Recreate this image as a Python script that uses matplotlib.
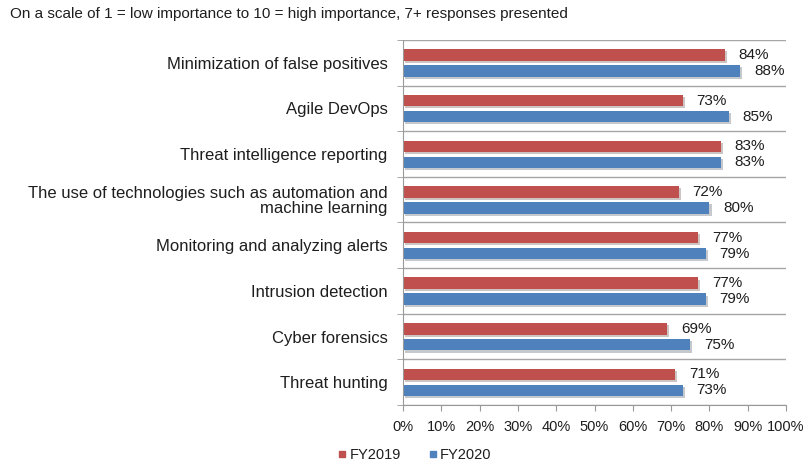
import numpy as np
import matplotlib.pyplot as plt
import matplotlib.patheffects as pe
from matplotlib.lines import Line2D

plt.rcParams['font.family'] = ['Liberation Sans', 'DejaVu Sans']

categories = [
    'Minimization of false positives',
    'Agile DevOps',
    'Threat intelligence reporting',
    'The use of technologies such as automation and\nmachine learning',
    'Monitoring and analyzing alerts',
    'Intrusion detection',
    'Cyber forensics',
    'Threat hunting',
]
fy2019 = [84, 73, 83, 72, 77, 77, 69, 71]
fy2020 = [88, 85, 83, 80, 79, 79, 75, 73]
xticks = list(range(0, 101, 10))

red = '#C0504D'
blue = '#4F81BD'
text_color = '#1E1E1E'

fig = plt.figure(figsize=(8.07, 4.68), dpi=100)
ax = fig.add_axes([0.4994, 0.1346, 0.4746, 0.78])

y = np.arange(len(categories))
shadow = [pe.SimplePatchShadow(offset=(1.5, -1.5), alpha=0.25), pe.Normal()]

bars19 = ax.barh(y - 0.17, fy2019, height=0.25, color=red, path_effects=shadow)
bars20 = ax.barh(y + 0.18, fy2020, height=0.25, color=blue, path_effects=shadow)

for bars, vals in [(bars19, fy2019), (bars20, fy2020)]:
    for b, v in zip(bars, vals):
        ax.annotate(f'{v}%', (b.get_width(), b.get_y() + b.get_height() / 2),
                    xytext=(10, 0), textcoords='offset points', va='center',
                    ha='left', fontsize=11, color=text_color)

ax.set_ylim(len(categories) - 0.5, -0.5)
ax.set_xlim(0, 100)

ax.set_yticks(y)
ax.set_yticklabels(categories, fontsize=12, color=text_color, ha='right',
                   multialignment='right', linespacing=0.95)
ax.tick_params(axis='y', which='major', length=0, pad=11)
ax.set_yticks(np.arange(-0.5, len(categories), 1), minor=True)
ax.tick_params(axis='y', which='minor', length=4, color='#999999')
ax.grid(axis='y', which='minor', color='#A6A6A6', linewidth=1)

ax.set_xticks(xticks)
ax.set_xticklabels([f'{t}%' for t in xticks], fontsize=10.5, color=text_color)
ax.tick_params(axis='x', length=4, color='#999999', pad=7)

for s in ['top', 'right']:
    ax.spines[s].set_visible(False)
for s in ['left', 'bottom']:
    ax.spines[s].set_color('#999999')

fig.text(0.012, 0.97, 'On a scale of 1 = low importance to 10 = high importance, 7+ responses presented',
         fontsize=11, color=text_color, va='center', ha='left')

handles = [Line2D([], [], marker='s', linestyle='', color=red, markersize=5),
           Line2D([], [], marker='s', linestyle='', color=blue, markersize=5)]
fig.legend(handles, ['FY2019', 'FY2020'], loc='center', bbox_to_anchor=(0.513, 0.027),
           ncol=2, frameon=False, fontsize=10.5, handletextpad=0.1, columnspacing=1.8,
           handlelength=0.8, labelcolor=text_color)

fig.savefig('out.png', dpi=100)
